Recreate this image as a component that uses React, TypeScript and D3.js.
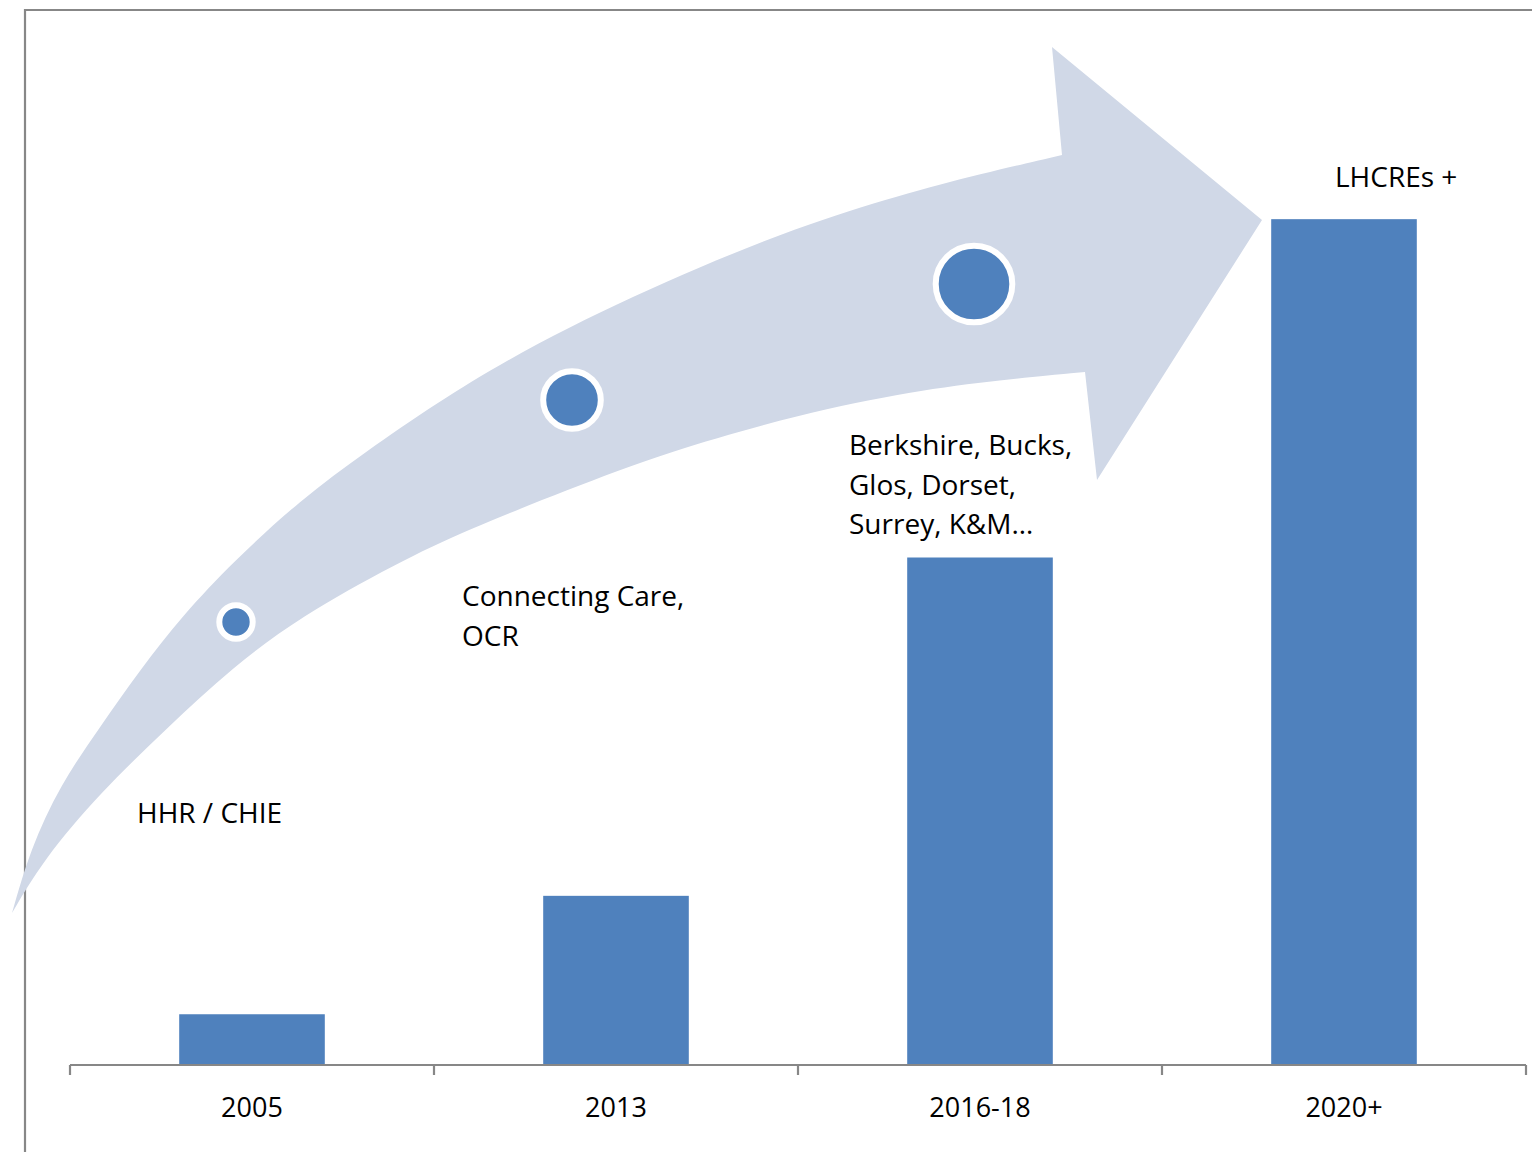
import React from "react";
import * as d3 from "d3";

const categories = ["2005", "2013", "2016-18", "2020+"];
const values = [3, 10, 30, 50];
const yMax = 60;

// Annotation text lines for each category
const labels: string[][] = [
  ["HHR / CHIE"],
  ["Connecting Care,", "OCR"],
  ["Berkshire, Bucks,", "Glos, Dorset,", "Surrey, K&M…"],
  ["LHCREs +"],
];

// Decorative arrow outline (outer edge tail→head, inner edge head→tail)
const arrowOuter: [number, number][] = [
  [12, 913], [30, 850], [60, 785], [100, 727], [140, 670], [183, 615], [233, 562],
  [300, 500], [367, 451], [433, 405], [533, 344], [667, 280], [800, 226],
  [900, 195], [980, 174], [1062, 155],
];
const arrowHead: [number, number][] = [[1052, 47], [1262, 220], [1097, 480], [1085, 372]];
const arrowInner: [number, number][] = [
  [1085, 372], [1000, 380], [913, 391], [800, 414], [667, 452], [567, 490], [467, 530],
  [397, 563], [300, 617], [233, 667], [167, 728], [100, 793], [43, 860], [12, 913],
];
// Milestone dots on the arrow
const dots = [
  { cx: 236, cy: 622, r: 16.7 },
  { cx: 572, cy: 400, r: 28.8 },
  { cx: 974, cy: 284, r: 38.3 },
];

const W = 1532;
const H = 1152;
const baseY = 1065;
const FONT = "'Open Sans', sans-serif";

export default function App() {
  const x = d3.scaleBand<string>().domain(categories).range([70, 1526]).padding(0);
  const y = d3.scaleLinear().domain([0, yMax]).range([baseY, 50]);
  const barW = x.bandwidth() * 0.4;

  const curve = d3.line().curve(d3.curveBasis);
  const outerD = curve(arrowOuter) as string;
  const innerD = (curve(arrowInner) as string).replace(/^M[^LC]*/, "");
  const headD = arrowHead.map((p) => `L${p[0]},${p[1]}`).join("");
  const arrowD = `${outerD}${headD}${innerD}Z`;

  const labelPos = [
    { x: 137, y: 823 },
    { x: 462, y: 606 },
    { x: 849, y: 455 },
    { x: 1335, y: 187 },
  ];

  const ticks = [...categories.map((c) => x(c) as number), 1526];

  return (
    <svg
      width={W}
      height={H}
      style={{ position: "absolute", left: 0, top: 0, background: "#fff" }}
      fontFamily={FONT}
    >
      {/* frame */}
      <path d={`M25,${H}V10H${W}`} fill="none" stroke="#878787" strokeWidth={2.2} />

      {/* bars */}
      {categories.map((c, i) => (
        <rect
          key={c}
          x={(x(c) as number) + (x.bandwidth() - barW) / 2}
          y={y(values[i])}
          width={barW}
          height={baseY - y(values[i])}
          fill="#4F81BD"
        />
      ))}

      {/* arrow */}
      <path d={arrowD} fill="#D0D8E7" />
      {dots.map((d, i) => (
        <circle key={i} cx={d.cx} cy={d.cy} r={d.r} fill="#4F81BD" stroke="#fff" strokeWidth={6} />
      ))}

      {/* axis */}
      <line x1={70} x2={1526} y1={baseY} y2={baseY} stroke="#878787" strokeWidth={2.2} />
      {ticks.map((t, i) => (
        <line key={i} x1={t} x2={t} y1={baseY} y2={baseY + 10} stroke="#878787" strokeWidth={2.2} />
      ))}
      {categories.map((c) => (
        <text
          key={c}
          x={(x(c) as number) + x.bandwidth() / 2}
          y={1117}
          textAnchor="middle"
          fontSize={27}
          fill="#000"
        >
          {c}
        </text>
      ))}

      {/* annotations */}
      {labels.map((lines, i) => (
        <text key={i} x={labelPos[i].x} y={labelPos[i].y} fontSize={28} fill="#000">
          {lines.map((l, j) => (
            <tspan key={j} x={labelPos[i].x} dy={j === 0 ? 0 : 39.5}>
              {l}
            </tspan>
          ))}
        </text>
      ))}
    </svg>
  );
}
